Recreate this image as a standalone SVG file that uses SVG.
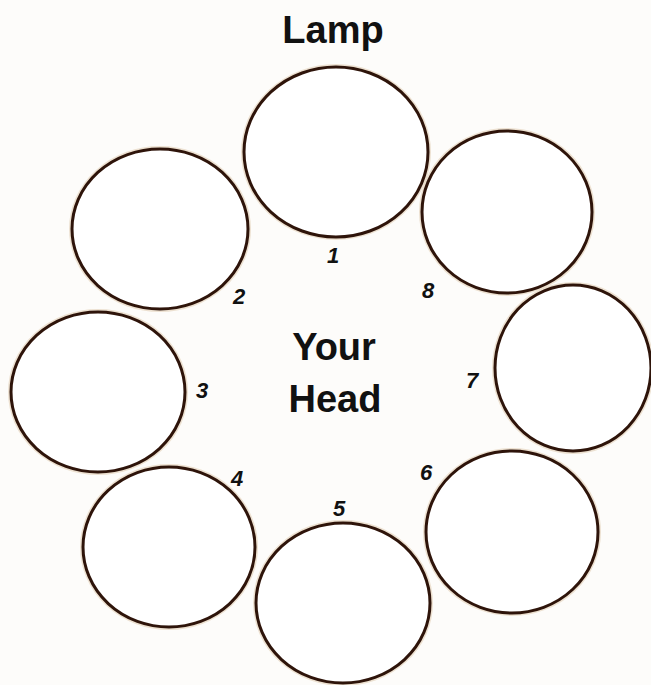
<svg xmlns="http://www.w3.org/2000/svg" width="651" height="685" viewBox="0 0 651 685">
  <style>
    .ring { fill: #ffffff; stroke: #2e140a; stroke-width: 3; }
    .halo { fill: none; stroke: #d9c2a0; stroke-width: 6; opacity: 0.45; }
    .title { font-family: "Liberation Sans", Arial, sans-serif; font-weight: bold; font-size: 38px; fill: #111111; text-anchor: middle; }
    .num { font-family: "Liberation Sans", Arial, sans-serif; font-weight: bold; font-style: italic; font-size: 22px; fill: #111111; text-anchor: middle; }
  </style>
  <rect x="0" y="0" width="651" height="685" fill="#fdfcfa"/>

  <g id="label-lamp"><text class="title" x="333" y="43">Lamp</text></g>
  <g id="label-head">
    <text class="title" x="334" y="360">Your</text>
    <text class="title" x="335" y="412">Head</text>
  </g>

  <g id="node-1">
    <ellipse class="halo" cx="336" cy="152" rx="92" ry="85"/>
    <ellipse class="ring" cx="336" cy="152" rx="92" ry="85"/>
    <text class="num" x="333" y="263">1</text>
  </g>
  <g id="node-2">
    <ellipse class="halo" cx="160" cy="229" rx="88" ry="80"/>
    <ellipse class="ring" cx="160" cy="229" rx="88" ry="80"/>
    <text class="num" x="239" y="304">2</text>
  </g>
  <g id="node-3">
    <ellipse class="halo" cx="98" cy="392" rx="87" ry="80"/>
    <ellipse class="ring" cx="98" cy="392" rx="87" ry="80"/>
    <text class="num" x="202" y="398">3</text>
  </g>
  <g id="node-4">
    <ellipse class="halo" cx="169" cy="547" rx="86" ry="80"/>
    <ellipse class="ring" cx="169" cy="547" rx="86" ry="80"/>
    <text class="num" x="237" y="486">4</text>
  </g>
  <g id="node-5">
    <ellipse class="halo" cx="343" cy="603" rx="87" ry="80"/>
    <ellipse class="ring" cx="343" cy="603" rx="87" ry="80"/>
    <text class="num" x="339" y="516">5</text>
  </g>
  <g id="node-6">
    <ellipse class="halo" cx="512" cy="532" rx="86" ry="81"/>
    <ellipse class="ring" cx="512" cy="532" rx="86" ry="81"/>
    <text class="num" x="426" y="480">6</text>
  </g>
  <g id="node-7">
    <ellipse class="halo" cx="573" cy="368" rx="78" ry="83"/>
    <ellipse class="ring" cx="573" cy="368" rx="78" ry="83"/>
    <text class="num" x="472" y="388">7</text>
  </g>
  <g id="node-8">
    <ellipse class="halo" cx="507" cy="212" rx="85" ry="81"/>
    <ellipse class="ring" cx="507" cy="212" rx="85" ry="81"/>
    <text class="num" x="428" y="298">8</text>
  </g>
</svg>
